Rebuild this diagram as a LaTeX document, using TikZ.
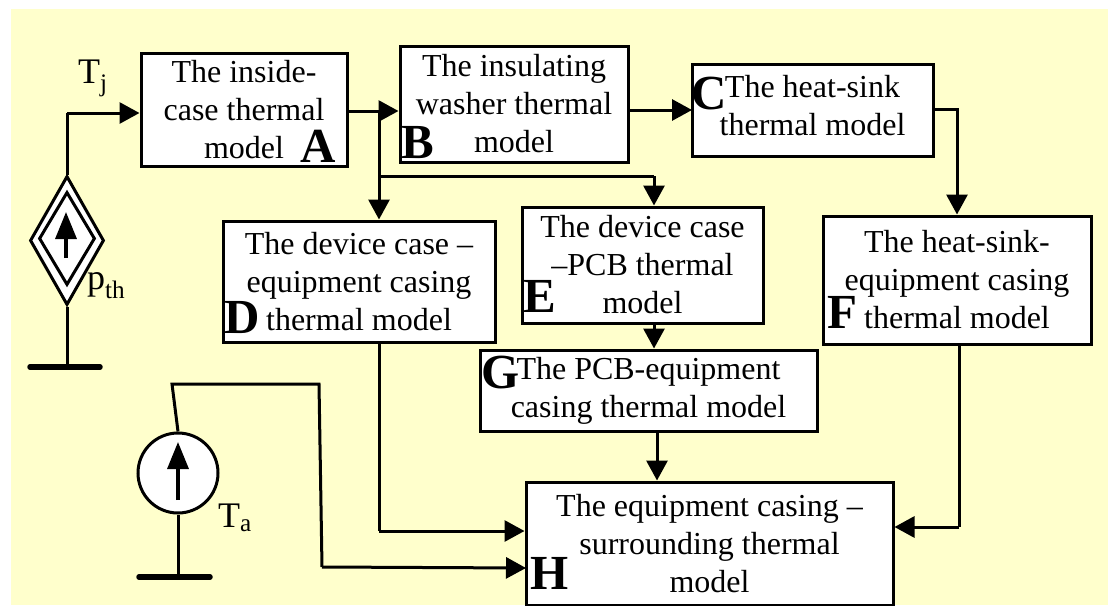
\documentclass[tikz,border=0pt]{standalone}
\usepackage{fontspec}
\setmainfont{Liberation Serif}
\usetikzlibrary{arrows.meta,shapes.geometric}
\definecolor{paper}{HTML}{FFFFCC}
\tikzset{
    modelbox/.style={draw,fill=white,line width=3pt,inner sep=0pt,align=center,
        font=\fontsize{32}{38}\selectfont},
    letter/.style={inner sep=0pt,font=\fontsize{49}{49}\selectfont\bfseries},
    symbol/.style={inner sep=0pt,font=\fontsize{36}{38}\selectfont},
    wire/.style={line width=3pt},
    flow/.style={line width=3pt,-{Triangle[length=20pt,width=21pt]}},
    earth/.style={line width=5.5pt,line cap=round},
    upmark/.style={line width=3.4pt,-{Triangle[length=27pt,width=21pt]}},
    rhomb/.style={draw,diamond,aspect=0.57,fill=white,line width=3pt,inner sep=0pt}
}
\begin{document}
\begin{tikzpicture}[x=1pt,y=-1pt]
        \useasboundingbox (0,0) rectangle (1108,605);
        \fill[paper] (11,9) rectangle (1108,605);

        \node[modelbox,minimum width=206pt,minimum height=113pt] (boxA) at (244,109.5) {The inside-\\case thermal\\model};
        \node[modelbox,minimum width=228pt,minimum height=116pt] (boxB) at (514,104) {The insulating\\washer thermal\\model};
        \node[modelbox,minimum width=241pt,minimum height=92pt] (boxC) at (812.5,110) {The heat-sink\\thermal model\rule[-10pt]{0pt}{10pt}};
        \node[modelbox,minimum width=272pt,minimum height=121pt] (boxD) at (359,281.5) {The device case --\\equipment casing\\thermal model};
        \node[modelbox,minimum width=241pt,minimum height=116pt] (boxE) at (642.5,265) {The device case\\--PCB thermal\\model};
        \node[modelbox,minimum width=268pt,minimum height=128pt] (boxF) at (957,280) {The heat-sink-\\equipment casing\\thermal model};
        \node[modelbox,minimum width=337pt,minimum height=81pt] (boxG) at (648.5,390.5) {The PCB-equipment\\casing thermal model};
        \node[modelbox,minimum width=367pt,minimum height=123pt] (boxH) at (709.5,543.5) {The equipment casing --\\surrounding thermal\\model};

        \node[letter] (markA) at (318,146) {A};
        \node[letter] (markB) at (418,143) {B};
        \node[letter] (markC) at (709,94) {C};
        \node[letter] (markD) at (242,318) {D};
        \node[letter] (markE) at (540,296) {E};
        \node[letter] (markF) at (842,312) {F};
        \node[letter] (markG) at (501,373) {G};
        \node[letter] (markH) at (550,573) {H};

        \node[rhomb,minimum width=74pt,minimum height=129pt] (srcOuter) at (67,240.5) {};
        \node[rhomb,minimum width=56pt,minimum height=93pt] (srcInner) at (67,238.5) {};
        \node[circle,draw,fill=white,line width=3pt,minimum size=80pt,inner sep=0pt] (srcAmb) at (178,473) {};

        \coordinate (cornerJ) at (67,113);
        \coordinate (earthJ) at (67,367);
        \coordinate (earthJl) at (30,367);
        \coordinate (earthJr) at (100,367);
        \coordinate (earthA) at (178,577);
        \coordinate (earthAl) at (139,577);
        \coordinate (earthAr) at (210,577);
        \coordinate (tapAB) at (379,111);
        \coordinate (tapE) at (379,176);
        \coordinate (topE) at (654,176);
        \coordinate (levelBC) at (692,110);
        \coordinate (endC) at (959,109);
        \coordinate (tapC) at (957,109);
        \coordinate (lowD) at (379,531);
        \coordinate (topAmb) at (172,384);
        \coordinate (cornerAmb) at (319,384);
        \coordinate (lowAmb) at (322,567);
        \coordinate (levelAmb) at (526,568);
        \coordinate (lowF) at (959,527);
        \coordinate (stemG) at (657,431);
        \coordinate (upTail) at (66,258);
        \coordinate (upTip) at (66,212);
        \coordinate (ambTail) at (178,500);
        \coordinate (ambTip) at (178,442);

        \draw[wire] (srcOuter.north) -- (cornerJ);
        \draw[flow] (cornerJ) -- (boxA.west |- cornerJ);
        \draw[wire] (srcOuter.south) -- (earthJ);
        \draw[earth] (earthJl) -- (earthJr);
        \draw[upmark] (upTail) -- (upTip);

        \draw[flow] (boxA.east |- tapAB) -- (boxB.west |- tapAB);
        \draw[flow] (tapAB) -- (boxD.north -| tapAB);
        \draw[wire] (tapE) -- (topE);
        \draw[flow] (topE) -- (boxE.north -| topE);
        \draw[flow] (boxB.east |- levelBC) -- (levelBC);
        \draw[wire] (boxC.east |- endC) -- (endC);
        \draw[flow] (tapC) -- (boxF.north -| tapC);

        \draw[wire] (boxD.south -| lowD) -- (lowD);
        \draw[flow] (lowD) -- (boxH.west |- lowD);
        \draw[flow] (boxE.south -| topE) -- (boxG.north -| topE);
        \draw[flow] (stemG) -- (boxH.north -| stemG);
        \draw[wire] (boxF.south -| lowF) -- (lowF);
        \draw[flow] (lowF) -- (boxH.east |- lowF);

        \draw[wire] (srcAmb.north) -- (topAmb) -- (cornerAmb) -- (lowAmb);
        \draw[flow] (lowAmb) -- (levelAmb);
        \draw[wire] (srcAmb.south) -- (earthA);
        \draw[earth] (earthAl) -- (earthAr);
        \draw[upmark] (ambTail) -- (ambTip);

        \node[symbol,anchor=west] (labelJ) at (78,78) {T\textsubscript{j}};
        \node[symbol,anchor=west] (labelP) at (87,286) {p\textsubscript{th}};
        \node[symbol,anchor=west] (labelA) at (218,518) {T\textsubscript{a}};
\end{tikzpicture}
\end{document}
